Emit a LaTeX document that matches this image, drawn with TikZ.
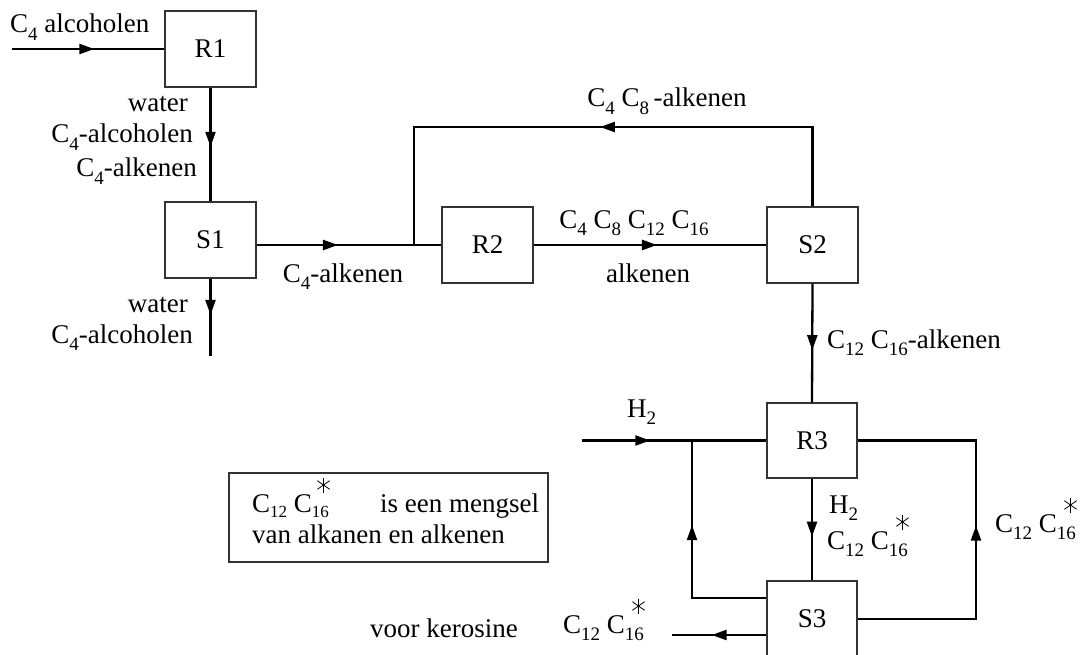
\documentclass[tikz,border=0pt]{standalone}
\usepackage{fontspec}
\setmainfont{Liberation Serif}
\usetikzlibrary{arrows.meta,decorations.markings}
\newcommand\ssub[1]{\raisebox{-0.28em}{\fontsize{19}{19}\selectfont #1}}
\newcommand\lsub[1]{\raisebox{-0.22em}{\fontsize{17}{17}\selectfont #1}}
\newcommand\sstar{\hspace{-12pt}\tikz[baseline=0pt]{\foreach \a in {90,35,145}{\draw[line width=0.8pt,black,shift={(0pt,27pt)}] (\a:7.5pt) -- (\a+180:7.5pt);}}}
\tikzset{
  unit/.style={draw=black!80, line width=1.1pt, minimum width=91pt, minimum height=76pt, inner sep=0pt, font=\fontsize{27}{30}\selectfont},
  flow/.style={line width=2.3pt},
  arrat/.style={postaction={decorate,decoration={markings,mark=at position #1 with {\arrow{Triangle[length=15pt,width=10pt]}}}}},
  lbl/.style={inner sep=0pt, font=\fontsize{27}{30}\selectfont}
}
\begin{document}
\begin{tikzpicture}[x=1pt,y=-1pt]
\useasboundingbox (0,0) rectangle (1083,655);
% units
\node[unit] (R1) at (210.5,49) {R1};
\node[unit] (S1) at (210.5,240) {S1};
\node[unit] (R2) at (487.5,245) {R2};
\node[unit] (S2) at (812.5,245) {S2};
\node[unit, minimum width=90pt, minimum height=75pt] (R3) at (812,440.5) {R3};
\node[unit, minimum width=90pt] (S3) at (812,619) {S3};
% coordinates
\coordinate (in1) at (12,49);
\coordinate (out1) at (210.5,356);
\coordinate (j1) at (414,245);
\coordinate (top) at (414,127);
\coordinate (h2in) at (582,440.5);
\coordinate (j2) at (692,440.5);
\coordinate (j3) at (692,598);
\coordinate (rc) at (976,440.5);
\coordinate (out3) at (672,635);
% connectors
\draw[flow,arrat=0.54] (in1) -- (R1.west);
\draw[flow,arrat=0.52] (R1.south) -- (S1.north);
\draw[flow,arrat=0.47] (S1.south) -- (out1);
\draw[flow,arrat=0.44] (S1.east |- R2.west) -- (R2.west);
\draw[flow,arrat=292pt] (S2.north) |- (top) -- (j1);
\draw[flow,arrat=0.53] (R2.east) -- (S2.west);
\draw[flow,arrat=0.56] (S2.south) -- (R3.north);
\draw[flow,arrat=0.37] (h2in) -- (R3.west);
\draw[flow,arrat=0.635] (j3 -| S3.west) -- (j3) -- (j2);
\draw[flow,arrat=0.51] (S3.east) -| (rc) -- (R3.east);
\draw[flow,arrat=0.57] (R3.south) -- (S3.north);
\draw[flow,arrat=0.58] (out3 -| S3.west) -- (out3);
% labels
\node[lbl, anchor=base west] (l1) at (10,33) {C\ssub{4} alcoholen};
\node[lbl, anchor=base east] (l2) at (188,112) {water};
\node[lbl, anchor=base east] (l3) at (193,143) {C\ssub{4}-alcoholen};
\node[lbl, anchor=base east] (l4) at (197,177) {C\ssub{4}-alkenen};
\node[lbl, anchor=base east] (l5) at (188,312) {water};
\node[lbl, anchor=base east] (l6) at (193,343) {C\ssub{4}-alcoholen};
\node[lbl, anchor=base] (l7) at (343,282) {C\ssub{4}-alkenen};
\node[lbl, anchor=base] (l8) at (667,107) {C\ssub{4} C\ssub{8}\,-alkenen};
\node[lbl, anchor=base] (l9) at (634,228) {C\ssub{4} C\ssub{8} C\ssub{12} C\ssub{16}};
\node[lbl, anchor=base] (l10) at (648,282) {alkenen};
\node[lbl, anchor=base west] (l11) at (827,348) {C\ssub{12} C\ssub{16}-alkenen};
\node[lbl, anchor=base west] (l12) at (627,417) {H\ssub{2}};
\node[lbl, anchor=base west] (l13) at (829,513) {H\ssub{2}};
\node[lbl, anchor=base west] (l14) at (827,549) {C\ssub{12} C\ssub{16}\sstar};
\node[lbl, anchor=base west] (l15) at (995,532) {C\ssub{12} C\ssub{16}\sstar};
\node[lbl, anchor=base west] (l16) at (563,633) {C\ssub{12} C\ssub{16}\sstar};
\node[lbl, anchor=base west] (l17) at (370,637) {voor kerosine};
% legend
\node[draw=black!80, line width=1.1pt, minimum width=319pt, minimum height=89pt, inner sep=0pt] (legend) at (388.5,517.5) {};
\node[lbl, anchor=base west] (g1) at (252,512) {C\lsub{12} C\lsub{16}\sstar};
\node[lbl, anchor=base west] (g2) at (380,512) {is een mengsel};
\node[lbl, anchor=base west] (g3) at (252,543) {van alkanen en alkenen};
\end{tikzpicture}
\end{document}
